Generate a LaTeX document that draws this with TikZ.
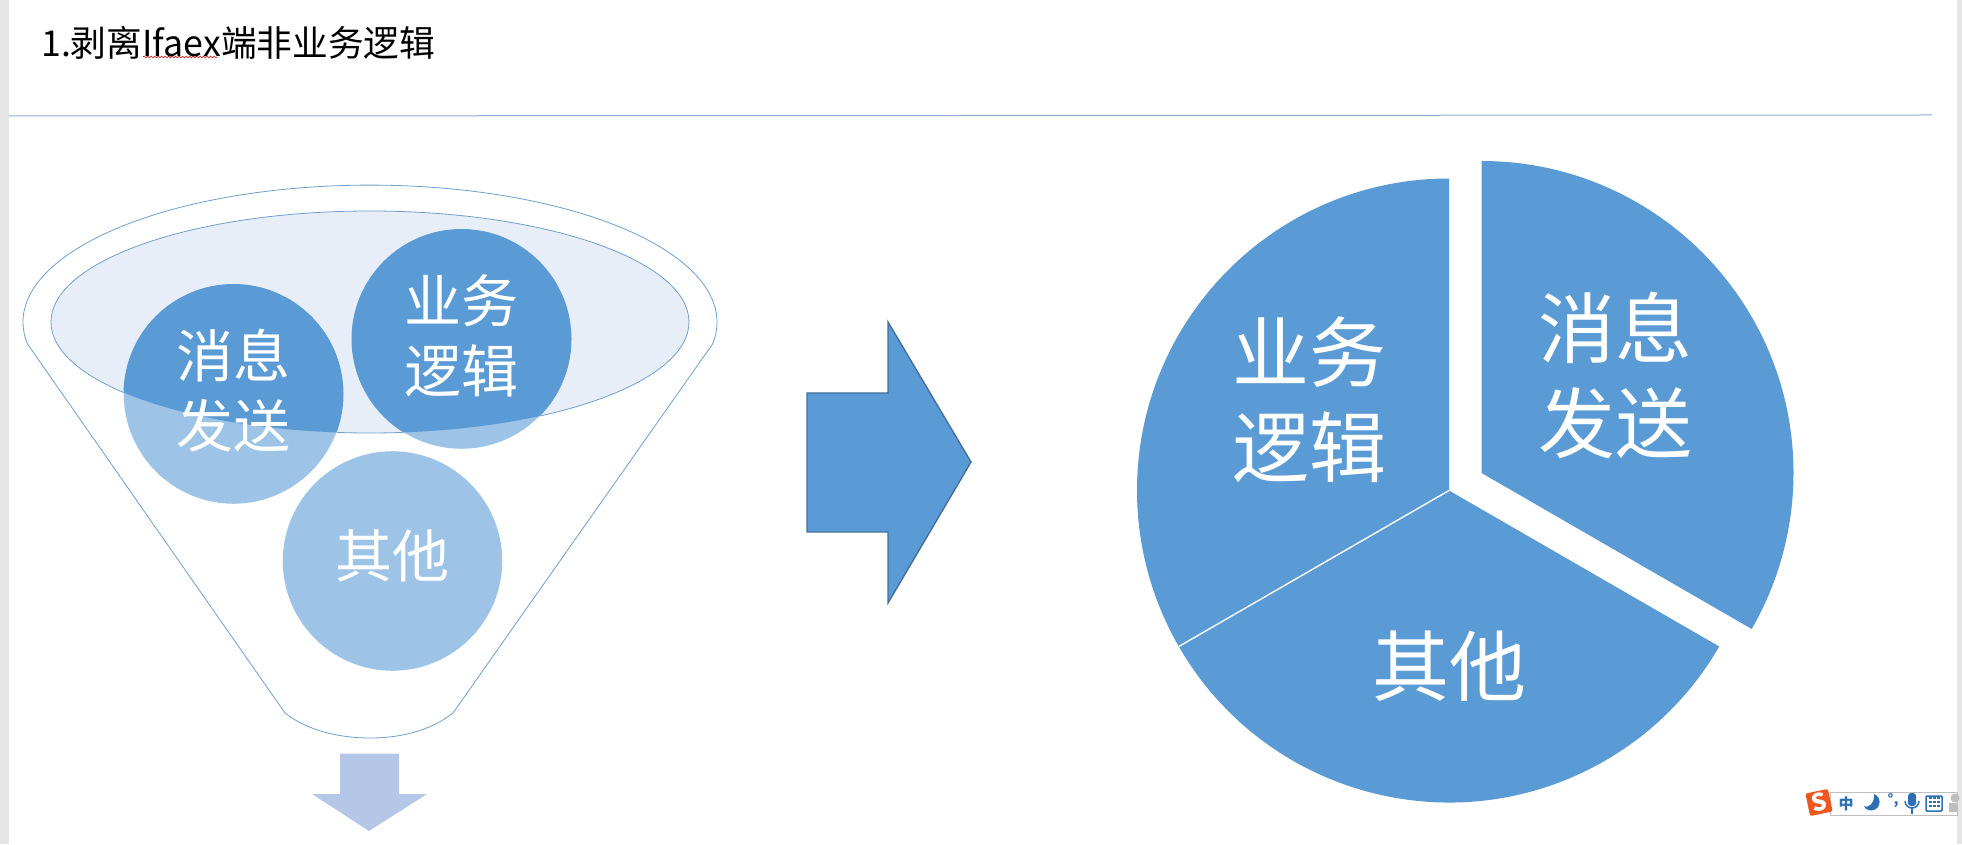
\documentclass[tikz,border=0pt]{standalone}
\usepackage{fontspec}
\setmainfont{Noto Sans CJK SC}
\newfontfamily\symfont{DejaVu Sans}
\usetikzlibrary{decorations.pathmorphing}

\definecolor{pieblue}{HTML}{5B9BD5}
\definecolor{ballblue}{HTML}{9DC3E6}
\definecolor{mouthblue}{HTML}{E8EEF8}
\definecolor{downblue}{HTML}{B4C7E7}
\definecolor{arrowedge}{HTML}{41719C}
\definecolor{ruleblue}{HTML}{8FAFCF}
\definecolor{funneledge}{HTML}{6F9FCC}
\definecolor{sogou}{HTML}{F0561F}
\definecolor{barblue}{HTML}{2C6FB5}

\tikzset{
    funnelline/.style={draw=funneledge,line width=0.8pt},
    ballnode/.style={circle,minimum size=220pt,inner sep=0pt},
    balltext/.style={text=white,align=center,font=\fontsize{57}{70}\selectfont},
    pietext/.style={text=white,align=center,font=\fontsize{77}{95}\selectfont},
    barglyph/.style={text=barblue,inner sep=0pt}
}

\begin{document}
\begin{tikzpicture}[x=1pt,y=1pt]

            \useasboundingbox (0,0) rectangle (1962,844);
            \fill[white] (0,0) rectangle (1962,844);
            \fill[black!10] (0,0) rectangle (9,844);
            \fill[black!10] (1957,0) rectangle (1962,844);

            \node[anchor=west,inner sep=0pt,font=\fontsize{35.7}{40}\selectfont] (title) at (41,801) {1.剥离Ifaex端非业务逻辑};
            \draw[red!80!black,line width=0.6pt,decorate,decoration={snake,amplitude=0.9pt,segment length=3.5pt}] (143,787) -- (217,787);
            \draw[ruleblue,line width=1pt] (9,728) -- (1932,729);

            \draw[funnelline,fill=white] (27.5,500) arc[start angle=189.2,end angle=-9.2,x radius=347,y radius=137]
                -- (453,131) .. controls (430,113) and (400,106) .. (370,106)
                .. controls (340,106) and (308,113) .. (285,131) -- cycle;
            \draw[funnelline,fill=mouthblue] (370,522) ellipse[x radius=319,y radius=111];

            \node[ballnode,fill=ballblue,draw=white] (msgball) at (233.5,450) {};
            \node[ballnode,fill=ballblue,draw=white] (bizball) at (461.5,505) {};
            \node[ballnode,fill=ballblue,draw=white] (otherball) at (392.5,283) {};

            \begin{scope}
                \clip (370,522) ellipse[x radius=319,y radius=111];
                \fill[pieblue] (msgball) circle[radius=110];
                \fill[pieblue] (bizball) circle[radius=110];
            \end{scope}

            \node[balltext] at ([yshift=3]msgball) {消息\\发送};
            \node[balltext] at ([yshift=3]bizball) {业务\\逻辑};
            \node[balltext] at ([yshift=5]otherball) {其他};

            \fill[downblue] (340,90.5) -- (399,90.5) -- (399,50) -- (427,50) -- (369,13) -- (312,50) -- (340,50) -- cycle;

            \draw[arrowedge,line width=1.4pt,fill=pieblue] (807,451) -- (888,451) -- (888,522) -- (971,382)
                -- (888,241) -- (888,312) -- (807,312) -- cycle;

            \coordinate (piecentre) at (1449,353.5);
            \coordinate (msgapex) at (1481.5,371);
            \fill[pieblue] (piecentre) -- ++(90:312) arc[start angle=90,end angle=210,radius=312] -- cycle;
            \fill[pieblue] (piecentre) -- ++(210:312) arc[start angle=210,end angle=330,radius=312] -- cycle;
            \fill[pieblue] (msgapex) -- ++(90:312) arc[start angle=90,end angle=-30,radius=312] -- cycle;
            \draw[white,line width=1.4pt] (piecentre) -- ++(210:312);

            \node[pietext] (bizlabel) at (1309,444) {业务\\逻辑};
            \node[pietext] (msglabel) at (1615,469) {消息\\发送};
            \node[pietext] (otherlabel) at (1449,178) {其他};

            \draw[black!25,fill=white,line width=0.8pt] (1830,52) rectangle (1957,29);
            \node[rotate=12,fill=sogou,rounded corners=2pt,minimum size=23pt,inner sep=0pt,text=white,font=\fontsize{24}{24}\selectfont\bfseries] (sogouicon) at (1819,41.5) {S};
            \node[barglyph,font=\fontsize{15}{15}\selectfont\bfseries] (langicon) at (1846,40) {中};
            \fill[barblue] (1874,50) arc[start angle=70,end angle=-150,radius=8.5] .. controls (1868,35) and (1875,41) .. cycle;
            \node[barglyph,font=\fontsize{14}{14}\selectfont\bfseries] (punctdot) at (1893,43) {°,};
            \fill[barblue,rounded corners=3pt] (1908,38) rectangle (1916,51);
            \draw[barblue,line width=1.5pt] (1905,43) arc[start angle=180,end angle=360,radius=7];
            \draw[barblue,line width=1.5pt] (1912,36) -- (1912,30);
            \draw[barblue,line width=1.5pt,rounded corners=1pt] (1926,33) rectangle (1942,48);
            \foreach \row in {37,41,45} {
                \foreach \col in {1929,1933,1937} {
                    \fill[barblue] (\col,\row) rectangle (\col+2.5,\row+1.6);
                }
            }
            \fill[black!25] (1955,46) circle[radius=4.5];
            \fill[black!25] (1949,32) rectangle (1957,41);

\end{tikzpicture}
\end{document}
